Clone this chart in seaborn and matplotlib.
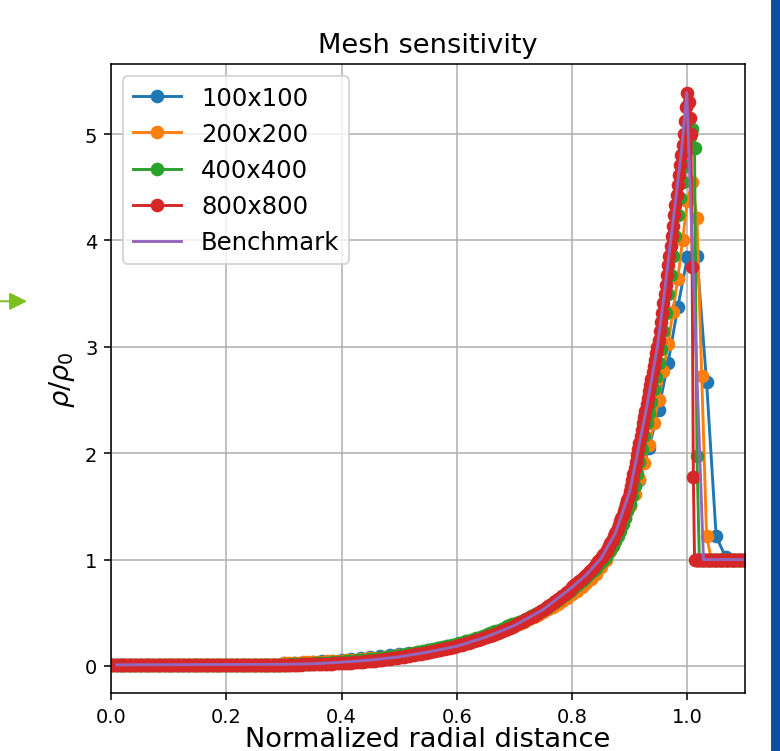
import numpy as np
import pandas as pd
import matplotlib
matplotlib.use("Agg")
import matplotlib.pyplot as plt
import seaborn as sns
from matplotlib.patches import Rectangle, FancyArrowPatch

# ---------------- data ----------------
series_names = ["100x100", "200x200", "400x400", "800x800"]
bench_name = "Benchmark"

# 100x100 : cell spacing 1/60
dx_100 = 1 / 60
y_100 = ([0.01] * 18 +
         [0.025, 0.028, 0.032, 0.037, 0.043, 0.05, 0.057, 0.064, 0.072, 0.08, 0.09,
          0.10, 0.11, 0.122, 0.135, 0.15, 0.167, 0.186, 0.207, 0.23, 0.255, 0.282,
          0.312, 0.345, 0.382, 0.42, 0.465, 0.515, 0.57, 0.63, 0.695, 0.77, 0.85] +
         [0.96, 1.13, 1.31, 1.51, 1.75, 2.05, 2.41, 2.85, 3.37, 3.84, 3.85, 2.67,
          1.22, 1.02, 1.0, 1.0])

# 200x200 : cell spacing 1/120
dx_200 = 1 / 120
y_200 = ([0.01] * 36 +
         [0.028, 0.029, 0.030, 0.031, 0.033, 0.035, 0.037, 0.039, 0.041, 0.043, 0.045, 0.048,
          0.050, 0.053, 0.056, 0.059, 0.062, 0.066, 0.070, 0.074, 0.078, 0.083, 0.088, 0.093,
          0.100, 0.106, 0.113, 0.120, 0.127, 0.134, 0.142, 0.150, 0.158, 0.167, 0.176, 0.185,
          0.195, 0.206, 0.218, 0.231, 0.245, 0.259, 0.274, 0.290, 0.306, 0.323, 0.341, 0.360,
          0.378, 0.397, 0.417, 0.438, 0.460, 0.483, 0.507, 0.532, 0.558, 0.585, 0.613, 0.643,
          0.675, 0.708, 0.742, 0.778, 0.815, 0.860, 0.93, 1.00, 1.08, 1.17, 1.28, 1.39,
          1.50, 1.62, 1.76, 1.91, 2.08, 2.28, 2.50, 2.77, 3.03, 3.33, 3.64, 4.00] +
         [4.37, 4.55, 4.21, 2.73, 1.22, 1.0, 1.0, 1.0, 1.0, 1.0, 1.0, 1.0, 1.0])

# 400x400 : cell spacing 1/240
dx_400 = 1 / 240
y_400 = ([0.01] * 72 +
         [0.012, 0.013, 0.013, 0.014, 0.015, 0.015, 0.016, 0.017, 0.018, 0.019, 0.020, 0.021,
          0.022, 0.023, 0.024, 0.025, 0.027, 0.028, 0.030, 0.031, 0.033, 0.035, 0.037, 0.039,
          0.040, 0.041, 0.043, 0.044, 0.046, 0.047, 0.049, 0.051, 0.053, 0.055, 0.057, 0.059,
          0.062, 0.064, 0.066, 0.069, 0.071, 0.074, 0.077, 0.080, 0.083, 0.086, 0.089, 0.092,
          0.096, 0.100, 0.104, 0.108, 0.112, 0.116, 0.120, 0.124, 0.128, 0.132, 0.137, 0.141,
          0.146, 0.151, 0.155, 0.160, 0.165, 0.170, 0.175, 0.180, 0.185, 0.190, 0.195, 0.200,
          0.205, 0.211, 0.217, 0.223, 0.230, 0.237, 0.244, 0.251, 0.258, 0.266, 0.274, 0.282,
          0.290, 0.298, 0.306, 0.315, 0.324, 0.333, 0.342, 0.351, 0.361, 0.371, 0.381, 0.391,
          0.396, 0.405, 0.414, 0.424, 0.434, 0.444, 0.455, 0.466, 0.477, 0.488, 0.500, 0.512,
          0.528, 0.542, 0.557, 0.572, 0.588, 0.604, 0.620, 0.637, 0.654, 0.671, 0.689, 0.707,
          0.725, 0.743, 0.762, 0.781, 0.800, 0.820, 0.840, 0.860, 0.880, 0.900, 0.920, 0.945,
          0.975, 1.000, 1.026, 1.057, 1.091, 1.130, 1.173, 1.220, 1.272, 1.330, 1.390, 1.455,
          1.525, 1.600, 1.690, 1.800, 1.920, 2.040, 2.160, 2.280, 2.378, 2.485, 2.600, 2.720,
          2.845, 2.975, 3.147, 3.321, 3.495, 3.672, 3.858, 4.045, 4.235, 4.400, 4.550, 4.700] +
         [4.85, 4.97, 5.05, 4.87, 1.97, 1.0] + [1.0] * 19)

# 800x800 : spacing 1/240 below x=0.85, 1/480 from x=0.85 (steep part)
dx_800_coarse = 1 / 240
y_800_coarse = ([0.01] * 72 +
                [0.010, 0.010, 0.011, 0.011, 0.012, 0.012, 0.013, 0.013, 0.014, 0.014, 0.015, 0.015,
                 0.016, 0.016, 0.017, 0.018, 0.018, 0.019, 0.020, 0.021, 0.022, 0.023, 0.024, 0.025,
                 0.026, 0.027, 0.028, 0.030, 0.031, 0.033, 0.034, 0.036, 0.038, 0.040, 0.042, 0.044,
                 0.046, 0.048, 0.050, 0.053, 0.055, 0.058, 0.061, 0.064, 0.067, 0.070, 0.073, 0.076,
                 0.080, 0.084, 0.088, 0.092, 0.096, 0.100, 0.104, 0.108, 0.112, 0.116, 0.120, 0.124,
                 0.129, 0.133, 0.137, 0.142, 0.146, 0.151, 0.156, 0.161, 0.166, 0.171, 0.176, 0.181,
                 0.186, 0.192, 0.198, 0.205, 0.211, 0.218, 0.225, 0.232, 0.239, 0.246, 0.254, 0.262,
                 0.270, 0.278, 0.286, 0.294, 0.303, 0.312, 0.321, 0.330, 0.339, 0.349, 0.359, 0.369,
                 0.380, 0.391, 0.402, 0.413, 0.425, 0.437, 0.449, 0.461, 0.474, 0.487, 0.500, 0.514,
                 0.530, 0.545, 0.560, 0.576, 0.592, 0.608, 0.625, 0.642, 0.659, 0.677, 0.695, 0.714,
                 0.740, 0.758, 0.777, 0.796, 0.815, 0.836, 0.858, 0.881, 0.905, 0.930, 0.956, 0.983])
x_800_fine_start = 0.85
dx_800_fine = 1 / 480
y_800_fine = ([1.010, 1.025, 1.040, 1.056, 1.073, 1.091, 1.110, 1.130, 1.151, 1.173, 1.196, 1.220,
               1.245, 1.272, 1.300, 1.329, 1.359, 1.390, 1.422, 1.455, 1.489, 1.524, 1.560, 1.600,
               1.640, 1.690, 1.745, 1.800, 1.860, 1.920, 1.980, 2.040, 2.100, 2.160, 2.220, 2.280,
               2.340, 2.400, 2.460, 2.520, 2.580, 2.640, 2.700, 2.760, 2.820, 2.880, 2.940, 3.000,
               3.060, 3.147, 3.234, 3.321, 3.408, 3.495, 3.582, 3.672, 3.765, 3.858, 3.950, 4.045,
               4.140, 4.235, 4.330, 4.425, 4.520, 4.615, 4.710, 4.805, 4.900, 5.000, 5.120, 5.250,
               5.385, 5.300, 5.150, 5.000, 3.750, 1.780] + [1.0] * 43)

# Benchmark (analytical) profile
bench_x = [0.01, 0.30, 0.35, 0.40, 0.45, 0.50, 0.55, 0.60, 0.65, 0.70, 0.75, 0.80, 0.825,
           0.85, 0.875, 0.90, 0.912, 0.93, 0.948, 0.96, 0.97, 0.98, 0.99, 0.999, 1.028, 1.1]
bench_y = [0.01, 0.015, 0.02, 0.035, 0.055, 0.085, 0.13, 0.185, 0.27, 0.38, 0.53, 0.74, 0.858,
           1.01, 1.245, 1.64, 1.96, 2.45, 3.0, 3.5, 3.95, 4.4, 4.85, 5.39, 1.0, 1.0]

x_ticks = [0.0, 0.2, 0.4, 0.6, 0.8, 1.0]
y_ticks = [0, 1, 2, 3, 4, 5]

# ---------------- build tables ----------------
x_100 = np.arange(len(y_100)) * dx_100
x_200 = np.arange(len(y_200)) * dx_200
x_400 = np.arange(len(y_400)) * dx_400
x_800 = np.concatenate([np.arange(len(y_800_coarse)) * dx_800_coarse,
                        x_800_fine_start + np.arange(len(y_800_fine)) * dx_800_fine])
y_800 = y_800_coarse + y_800_fine

frames = []
for name, xs, ys in zip(series_names, [x_100, x_200, x_400, x_800],
                        [y_100, y_200, y_400, y_800]):
    frames.append(pd.DataFrame({"x": xs, "y": ys, "mesh": name}))
df = pd.concat(frames, ignore_index=True)
bench = pd.DataFrame({"x": bench_x, "y": bench_y})

# ---------------- plot ----------------
DPI = 140
fig = plt.figure(figsize=(780 / DPI, 752 / DPI), dpi=DPI)
ax = fig.add_axes([0.1423, 0.0765, 0.8128, 0.8371])

palette = sns.color_palette("tab10")
for i, name in enumerate(series_names):
    sub = df[df["mesh"] == name]
    sns.lineplot(data=sub, x="x", y="y", ax=ax, color=palette[i], label=name,
                 marker="o", markersize=6, markeredgecolor=palette[i],
                 markeredgewidth=1.0, linewidth=1.5, sort=False, estimator=None,
                 errorbar=None)
sns.lineplot(data=bench, x="x", y="y", ax=ax, color=palette[4], label=bench_name,
             linewidth=1.5, sort=False, estimator=None, errorbar=None)

ax.set_xlim(0, 1.1)
ax.set_xticks(x_ticks)
ax.set_yticks(y_ticks)
ax.grid(True, color="#b0b0b0", linewidth=0.8)
ax.set_title("Mesh sensitivity", fontsize=14)
ax.set_xlabel("Normalized radial distance", fontsize=14, labelpad=0)
ax.set_ylabel(r"$\rho/\rho_0$", fontsize=14)
ax.tick_params(labelsize=10)
ax.legend(loc="upper left", fontsize=12.5)

# screenshot decorations: side bar and arrow
fig.add_artist(Rectangle((772 / 780, 0), 8 / 780, 1, transform=fig.transFigure,
                         color="#0b4f9f", zorder=5))
fig.add_artist(FancyArrowPatch(
    (0.0, 0.598), (27 / 780, 0.598), transform=fig.transFigure,
    arrowstyle="-|>,head_length=0.4,head_width=0.2", mutation_scale=19,
    color="#7cbf1f", lw=1.0, shrinkA=0, shrinkB=0))

fig.savefig("out.png", dpi=DPI)
